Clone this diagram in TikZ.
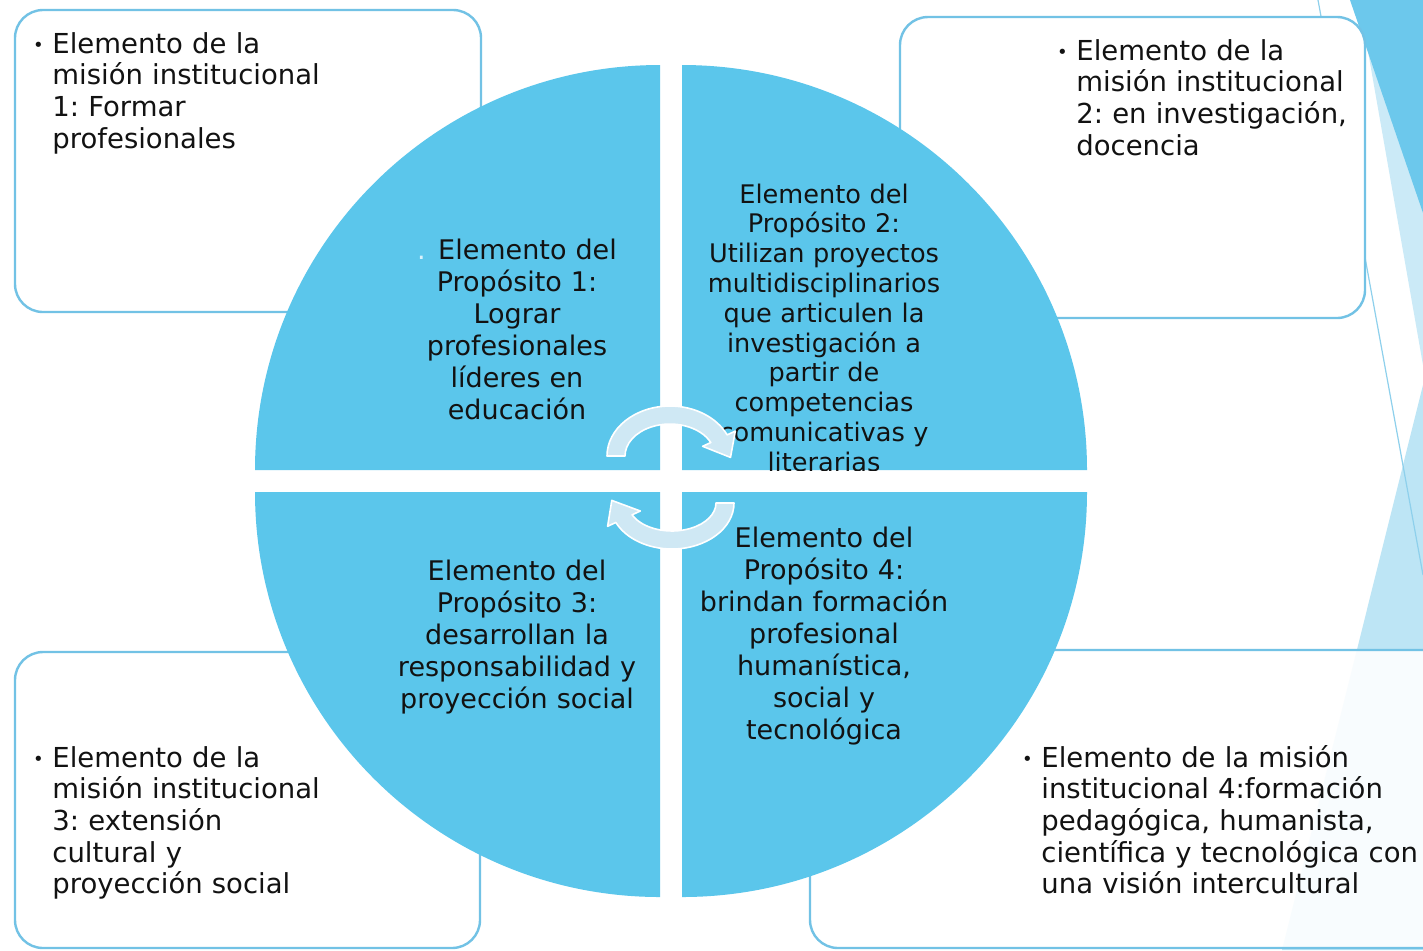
\documentclass[tikz,border=0pt]{standalone}
\usepackage{fontspec}
\setmainfont{DejaVu Sans}
\definecolor{circblue}{HTML}{5BC6EB}
\definecolor{boxblue}{HTML}{72C2E5}
\definecolor{decodark}{HTML}{6CC8EC}
\definecolor{decolight}{HTML}{CBEAF7}
\definecolor{trilight}{HTML}{BDE5F5}
\definecolor{linecol}{HTML}{8ED0EC}
\definecolor{arrowfill}{HTML}{CFE8F4}
\definecolor{txt}{HTML}{121212}
\definecolor{dotc}{HTML}{D8F2FC}
\newcommand{\mybul}{\llap{\raisebox{1pt}{\fontsize{9}{9}\selectfont •}\hspace{4.3pt}}}
\begin{document}
\frenchspacing
\begin{tikzpicture}[x=0.5pt,y=-0.5pt,
  box/.style={draw=boxblue, line width=1.2pt, fill=white, rounded corners=14pt},
  quad/.style={fill=circblue},
  boxtext/.style={anchor=base west, inner sep=0pt, text width=210pt, align=left, text=txt, font=\fontsize{13.75}{15.85}\selectfont\frenchspacing},
  proptext/.style={anchor=base, inner sep=0pt, text width=180pt, align=center, text=txt, font=\fontsize{13.5}{16}\selectfont\frenchspacing},
  circarrow/.style={fill=arrowfill, draw=white, line width=0.8pt, line join=round}]
\useasboundingbox (0,0) rectangle (1423,950);
\clip (0,0) rectangle (1423,950);
\fill[white] (0,0) rectangle (1423,950);

% right-side decoration
\fill[decolight] (1366,40) -- (1423,150) -- (1423,365) -- cycle;
\fill[decodark] (1350,0) -- (1423,0) -- (1423,213) -- cycle;
\fill[trilight] (1423,385) -- (1423,950) -- (1282,950) -- cycle;
\draw[linecol, line width=0.6pt] (1318,0) -- (1423,575);

% boxes
\draw[box] (15,10) rectangle (481,312);
\draw[box] (900,17) rectangle (1365,318);
\draw[box] (15,652) rectangle (480,948);
\draw[box, fill opacity=0.9] (810,650) rectangle (1470,948);

% circle quadrants
\fill[quad] (660,470) -- (255,470) arc[start angle=180, end angle=270, radius=405] -- cycle;
\fill[quad] (682,470) -- (682,65) arc[start angle=270, end angle=360, radius=405] -- cycle;
\fill[quad] (682,492) -- (1087,492) arc[start angle=0, end angle=90, radius=405] -- cycle;
\fill[quad] (660,492) -- (660,897) arc[start angle=90, end angle=180, radius=405] -- cycle;

% box texts
\node[boxtext] (m1) at (52,53) {\mybul Elemento de la\\misión institucional\\1: Formar\\profesionales};
\node[boxtext] (m2) at (1076,60) {\mybul Elemento de la\\misión institucional\\2: en investigación,\\docencia};
\node[boxtext] (m3) at (52,767) {\mybul Elemento de la\\misión institucional\\3: extensión\\cultural y\\proyección social};
\node[boxtext] (m4) at (1041,767) {\mybul Elemento de la misión\\institucional 4:formación\\pedagógica, humanista,\\científica y tecnológica con\\una visión intercultural};

% purpose texts
\node[proptext] (p1) at (517,259) {{\color{dotc}.}\hspace{6.2pt}Elemento del\\Propósito 1:\\Lograr\\profesionales\\líderes en\\educación};
\begin{scope}
\clip (682,470) -- (682,65) arc[start angle=270, end angle=360, radius=405] -- cycle;
\node[proptext, font=\fontsize{12.8}{14.9}\selectfont\frenchspacing] (p2) at (824,203) {Elemento del\\Propósito 2:\\Utilizan proyectos\\multidisciplinarios\\que articulen la\\investigación a\\partir de\\competencias\\comunicativas y\\literarias};
\end{scope}
\node[proptext] (p3) at (517,580) {Elemento del\\Propósito 3:\\desarrollan la\\responsabilidad y\\proyección social};
\node[proptext] (p4) at (824,547) {Elemento del\\Propósito 4:\\brindan formación\\profesional\\humanística,\\social y\\tecnológica};

% circular arrows
\path[circarrow] (607,456) arc[start angle=180, end angle=335, x radius=63, y radius=50]
  -- (735.3,431.1) -- (730.5,457.4) -- (702.6,446.3) -- (710.8,442.5)
  arc[start angle=335, end angle=180, x radius=45, y radius=32] -- cycle;
\path[circarrow] (734,503) arc[start angle=0, end angle=155, x radius=62, y radius=46]
  -- (607.6,526.3) -- (611.8,500.4) -- (640.3,511.0) -- (632.1,514.8)
  arc[start angle=155, end angle=0, x radius=44, y radius=28] -- cycle;
\end{tikzpicture}
\end{document}
